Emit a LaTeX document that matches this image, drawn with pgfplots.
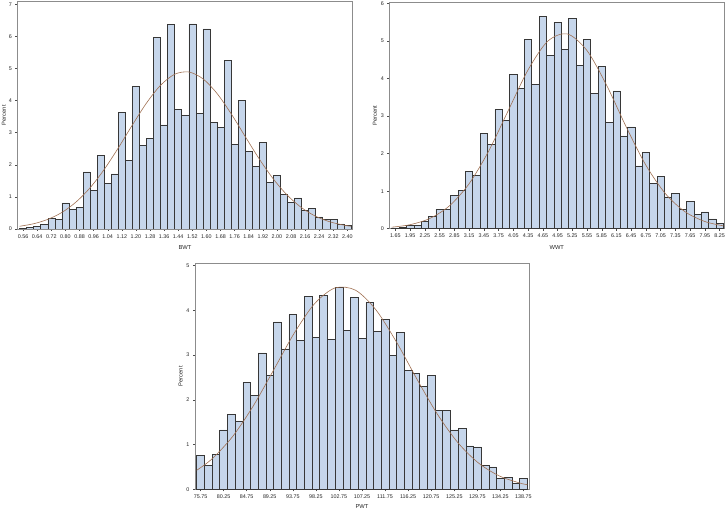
\documentclass[border=0pt]{standalone}
\usepackage{fontspec}
\setmainfont{Liberation Sans}
\usepackage{pgfplots}
\pgfplotsset{compat=1.18}

\definecolor{barfill}{RGB}{198,214,235}
\definecolor{baredge}{RGB}{55,55,55}
\definecolor{fitline}{RGB}{160,112,82}
\definecolor{framegray}{RGB}{140,140,140}

\pgfplotsset{
  hist/.style={
    scale only axis,
    anchor=south west,
    ymin=0,
    axis line style={framegray, line width=0.6pt},
    tick pos=left,
    tick align=outside,
    major tick length=2bp,
    tick style={black!70, line width=0.4pt},
    tick label style={font=\fontsize{5.4}{6.4}\selectfont, text=black!85},
    label style={font=\fontsize{5.8}{6.8}\selectfont, text=black!85},
    /pgf/number format/assume math mode=true,
    ylabel={Percent},
    ylabel style={anchor=center},
    xlabel style={anchor=center},
  },
  bars/.style={ybar, bar width=#1, bar shift=0pt, fill=barfill, draw=baredge, line width=0.55pt},
  fit/.style={smooth, no markers, draw=fitline, line width=0.6pt},
}

\begin{document}
\begin{tikzpicture}
\path[use as bounding box] (0,0) rectangle (727bp,511bp);

% BWT
\begin{axis}[hist,
  at={(17.3bp,282bp)}, width=335.4bp, height=227.3bp,
  xmin=0.527, xmax=2.43, ymax=7.08,
  ytick={0,1,2,3,4,5,6,7},
  xtick={0.56,0.64,0.72,0.80,0.88,0.96,1.04,1.12,1.20,1.28,1.36,1.44,1.52,1.60,1.68,1.76,1.84,1.92,2.00,2.08,2.16,2.24,2.32,2.40},
  xticklabels={0.56,0.64,0.72,0.80,0.88,0.96,1.04,1.12,1.20,1.28,1.36,1.44,1.52,1.60,1.68,1.76,1.84,1.92,2.00,2.08,2.16,2.24,2.32,2.40},
  xlabel={BWT},
  xlabel style={at={(axis description cs:0.5,-0.081)}},
  ylabel style={at={(axis description cs:-0.04,0.5)}},
]
\addplot[bars=0.04] coordinates {
(0.56,0.03) (0.60,0.05) (0.64,0.08) (0.68,0.15) (0.72,0.32) (0.76,0.30)
(0.80,0.81) (0.84,0.60) (0.88,0.67) (0.92,1.78) (0.96,1.21) (1.00,2.29)
(1.04,1.42) (1.08,1.72) (1.12,3.63) (1.16,2.13) (1.20,4.45) (1.24,2.60)
(1.28,2.83) (1.32,5.98) (1.36,3.24) (1.40,6.38) (1.44,3.72) (1.48,3.54)
(1.52,6.39) (1.56,3.60) (1.60,6.23) (1.64,3.32) (1.68,3.16) (1.72,5.25)
(1.76,2.63) (1.80,4.01) (1.84,2.42) (1.88,1.94) (1.92,2.69) (1.96,1.44)
(2.00,1.66) (2.04,1.09) (2.08,0.82) (2.12,0.97) (2.16,0.58) (2.20,0.63)
(2.24,0.38) (2.28,0.30) (2.32,0.30) (2.36,0.16) (2.40,0.11)
};
\addplot[fit] coordinates {
(0.54,0.085) (0.62,0.164) (0.70,0.300) (0.78,0.516) (0.86,0.839) (0.94,1.284)
(1.02,1.855) (1.10,2.525) (1.18,3.241) (1.26,3.923) (1.34,4.478) (1.42,4.820)
(1.50,4.891) (1.58,4.680) (1.66,4.223) (1.74,3.593) (1.82,2.882) (1.90,2.180)
(1.98,1.555) (2.06,1.046) (2.14,0.663) (2.22,0.396) (2.30,0.224) (2.38,0.119)
(2.42,0.085)
};
\end{axis}

% WWT
\begin{axis}[hist,
  at={(389.3bp,282.3bp)}, width=335bp, height=226.4bp,
  xmin=1.526, xmax=8.345, ymax=6.03,
  ytick={0,1,2,3,4,5,6},
  xtick={1.65,1.95,2.25,2.55,2.85,3.15,3.45,3.75,4.05,4.35,4.65,4.95,5.25,5.55,5.85,6.15,6.45,6.75,7.05,7.35,7.65,7.95,8.25},
  xticklabels={1.65,1.95,2.25,2.55,2.85,3.15,3.45,3.75,4.05,4.35,4.65,4.95,5.25,5.55,5.85,6.15,6.45,6.75,7.05,7.35,7.65,7.95,8.25},
  xlabel={WWT},
  xlabel style={at={(axis description cs:0.5,-0.082)}},
  ylabel style={at={(axis description cs:-0.043,0.5)}},
]
\addplot[bars=0.15] coordinates {
(1.65,0.02) (1.80,0.04) (1.95,0.08) (2.10,0.08) (2.25,0.20) (2.40,0.32)
(2.55,0.52) (2.70,0.51) (2.85,0.88) (3.00,1.02) (3.15,1.53) (3.30,1.42)
(3.45,2.53) (3.60,2.24) (3.75,3.18) (3.90,2.88) (4.05,4.10) (4.20,3.74)
(4.35,5.05) (4.50,3.84) (4.65,5.66) (4.80,4.62) (4.95,5.50) (5.10,4.78)
(5.25,5.60) (5.40,4.34) (5.55,5.04) (5.70,3.60) (5.85,4.32) (6.00,2.83)
(6.15,3.67) (6.30,2.47) (6.45,2.71) (6.60,1.67) (6.75,2.03) (6.90,1.20)
(7.05,1.40) (7.20,0.85) (7.35,0.95) (7.50,0.51) (7.65,0.73) (7.80,0.38)
(7.95,0.45) (8.10,0.26) (8.25,0.14)
};
\addplot[fit] coordinates {
(1.575,0.040) (1.95,0.107) (2.35,0.272) (2.75,0.609) (3.15,1.197) (3.55,2.071)
(3.95,3.154) (4.35,4.229) (4.75,4.992) (5.15,5.187) (5.55,4.744) (5.95,3.819)
(6.35,2.706) (6.75,1.688) (7.15,0.927) (7.55,0.448) (7.95,0.191) (8.325,0.076)
};
\end{axis}

% PWT
\begin{axis}[hist,
  at={(195bp,21.7bp)}, width=334bp, height=226bp,
  xmin=74.67, xmax=139.83, ymax=5.05,
  ytick={0,1,2,3,4,5},
  xtick={75.75,80.25,84.75,89.25,93.75,98.25,102.75,107.25,111.75,116.25,120.75,125.25,129.75,134.25,138.75},
  xticklabels={75.75,80.25,84.75,89.25,93.75,98.25,102.75,107.25,111.75,116.25,120.75,125.25,129.75,134.25,138.75},
  xlabel={PWT},
  xlabel style={at={(axis description cs:0.5,-0.075)}},
  ylabel style={at={(axis description cs:-0.043,0.5)}},
]
\addplot[bars=1.5] coordinates {
(75.75,0.75) (77.25,0.54) (78.75,0.78) (80.25,1.33) (81.75,1.67) (83.25,1.53)
(84.75,2.39) (86.25,2.10) (87.75,3.05) (89.25,2.54) (90.75,3.74) (92.25,3.14)
(93.75,3.90) (95.25,3.33) (96.75,4.31) (98.25,3.40) (99.75,4.33) (101.25,3.35)
(102.75,4.52) (104.25,3.55) (105.75,4.28) (107.25,3.37) (108.75,4.17) (110.25,3.53)
(111.75,3.80) (113.25,3.00) (114.75,3.50) (116.25,2.66) (117.75,2.59) (119.25,2.30)
(120.75,2.54) (122.25,1.77) (123.75,1.76) (125.25,1.33) (126.75,1.36) (128.25,0.97)
(129.75,0.95) (131.25,0.54) (132.75,0.50) (134.25,0.25) (135.75,0.27) (137.25,0.13)
(138.75,0.25)
};
\addplot[fit] coordinates {
(75,0.425) (78,0.681) (82,1.178) (86,1.856) (90,2.664) (94,3.483)
(98,4.148) (102,4.500) (106,4.448) (110,4.005) (114,3.286) (118,2.455)
(122,1.671) (126,1.036) (130,0.585) (134,0.301) (138,0.141) (139.5,0.104)
};
\end{axis}
\end{tikzpicture}
\end{document}
